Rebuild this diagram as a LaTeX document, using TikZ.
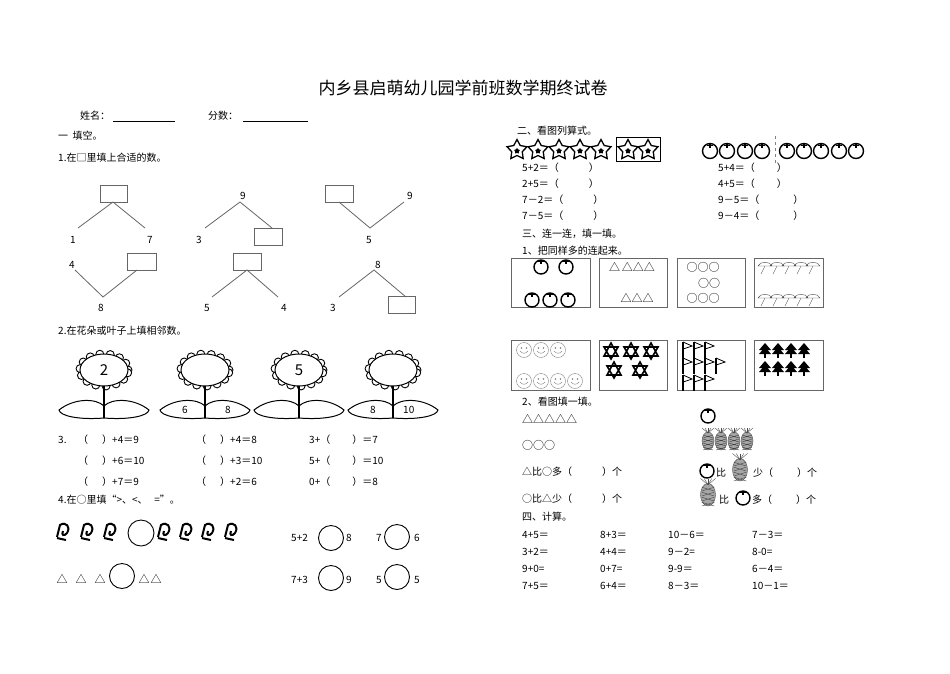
\documentclass[tikz,border=0pt]{standalone}
\usepackage{fontspec}
\setmainfont{Noto Sans CJK SC}
\usetikzlibrary{shapes.geometric}
\tikzset{tx/.style={anchor=west,inner sep=0pt,font=\fontsize{10}{11}\selectfont},
 ln/.style={draw=black!60,line width=0.8pt},
 bx/.style={draw=black!60,line width=0.8pt},
 ic/.style={line width=1.4pt}}
\newcommand\kh[1]{（\hspace{#1pt}）}
\newcommand\myapple[3][7]{\draw[ic] (#2,#3) circle[radius=#1pt]; \draw[ic] (#2,#3-#1) -- (#2,#3-#1+4); \draw[line width=0.8pt] (#2-3,#3-#1+1.5) -- (#2+3,#3-#1+1.5);}
\newcommand\mystar[2]{\node[star,star points=5,draw,line width=1.3pt,minimum size=21pt,inner sep=0pt,star point ratio=1.9] at (#1,#2) {}; \node[star,star points=5,fill,minimum size=6pt,inner sep=0pt] at (#1,#2+1) {};}
\newcommand\mypine[3][1]{\begin{scope}[shift={(#2,#3)},scale=#1]\draw[fill=black!35,draw=black!70] (0,3) ellipse[x radius=6pt,y radius=9pt];
 \foreach \v in {-3,1,5,9}{\draw[black!75] (-5,\v) -- (5,\v+3) (5,\v) -- (-5,\v+3);}
 \foreach \a in {-6,-3,0,3,6}{\draw[black!70] (0,-5) -- (\a,-10);}\end{scope}}
\newcommand\mycurl[2]{\draw[line width=2pt] (#1-6,#2+6) -- (#1-3,#2-6) .. controls (#1+3,#2-10) and (#1+8,#2-4) .. (#1+4,#2+2) .. controls (#1+1,#2+6) and (#1-2,#2+4) .. (#1,#2) (#1-6,#2+7) -- (#1+3,#2+9);}
\newcommand\myflower[2]{\begin{scope}[shift={(#1,370)}]
 \foreach \a in {0,25,...,359}{\draw[fill=white,line width=0.9pt] ({24*cos(\a)},{-16*sin(\a)}) circle[radius=4pt];}
 \draw[fill=white,line width=1pt] (0,0) ellipse[x radius=24pt,y radius=16pt];
 \draw[line width=1.5pt] (0,16) -- (0,48);
 \draw[line width=1pt] (0,48) .. controls (-25,50) and (-44,46) .. (-45,40) .. controls (-30,28) and (-8,28) .. (0,36);
 \draw[line width=1pt] (0,48) .. controls (25,50) and (44,46) .. (45,40) .. controls (30,28) and (8,28) .. (0,36);
 \node[font=\fontsize{15}{15}\selectfont] at (0,0) {#2};
\end{scope}}
\begin{document}
\begin{tikzpicture}[x=1pt,y=-1pt]
\useasboundingbox (0,0) rectangle (950,673);
\fill[white] (0,0) rectangle (950,673);
\node[font=\fontsize{17}{18}\selectfont] at (463,88) {内乡县启萌幼儿园学前班数学期终试卷};
\node[tx] at (80,116) {姓名：}; \draw (113,121) -- (175,121);
\node[tx] at (208,116) {分数：}; \draw (243,121) -- (308,121);
\node[tx] at (58,136) {一\ \ 填空。};
\node[tx] at (58,158) {1.在□里填上合适的数。};
% trees
\draw[bx] (100,185) rectangle (127,202); \draw[ln] (78,228) -- (113,202) -- (145,228);
\node[tx] at (70,240) {1}; \node[tx] at (147,240) {7};
\node[tx] at (240,196) {9}; \draw[ln] (205,228) -- (240,202) -- (272,228);
\node[tx] at (196,240) {3}; \draw[bx] (254,228) rectangle (282,245);
\draw[bx] (325,185) rectangle (353,202); \draw[ln] (339,202) -- (370,228) -- (404,202);
\node[tx] at (407,196) {9}; \node[tx] at (366,240) {5};
\node[tx] at (69,265) {4}; \draw[ln] (75,270) -- (103,297) -- (137,270);
\draw[bx] (127,253) rectangle (156,270); \node[tx] at (98,308) {8};
\draw[bx] (233,253) rectangle (261,270); \draw[ln] (212,297) -- (247,270) -- (278,297);
\node[tx] at (204,308) {5}; \node[tx] at (281,308) {4};
\node[tx] at (375,265) {8}; \draw[ln] (339,297) -- (374,270) -- (406,297);
\draw[bx] (388,296) rectangle (415,313); \node[tx] at (330,308) {3};
\node[tx] at (58,331) {2.在花朵或叶子上填相邻数。};
\myflower{104}{2}\myflower{205}{}\myflower{299}{5}\myflower{393}{}
\node[tx] at (182,410) {6}; \node[tx] at (225,410) {8};
\node[tx] at (370,410) {8}; \node[tx] at (403,410) {10};
% 3.
\node[tx] at (58,440) {3.};
\foreach \y/\a in {440/{+4＝9},461/{+6＝10},482/{+7＝9}}{\node[tx] at (78,\y) {\kh{14}\a};}
\foreach \y/\b in {440/{+4＝8},461/{+3＝10},482/{+2＝6}}{\node[tx] at (196,\y) {\kh{14}\b};}
\foreach \y/\p/\c in {440/3+/{＝7},461/5+/{＝10},482/0+/{＝8}}{\node[tx] at (309,\y) {\p\kh{22}\c};}
\node[tx] at (58,500) {4.在○里填“>、<、\ \ \ =”。};
\foreach \x in {63,87,110,164,186,208,231}{\mycurl{\x}{531}}
\draw[line width=0.9pt] (141,533) circle[radius=13pt];
\foreach \x in {62,81,100,144,156}{\node[font=\fontsize{11}{11}\selectfont] at (\x,579) {△};}
\draw[line width=0.9pt] (122,576) circle[radius=12.5pt];
\node[tx] at (291,538) {5+2}; \draw[line width=0.9pt] (331,538) circle[radius=12.5pt]; \node[tx] at (346,538) {8};
\node[tx] at (376,538) {7}; \draw[line width=0.9pt] (397,537) circle[radius=12.5pt]; \node[tx] at (414,538) {6};
\node[tx] at (291,580) {7+3}; \draw[line width=0.9pt] (331,578) circle[radius=12.5pt]; \node[tx] at (346,580) {9};
\node[tx] at (376,580) {5}; \draw[line width=0.9pt] (397,577) circle[radius=12.5pt]; \node[tx] at (414,580) {5};
% right
\node[tx] at (517,131) {二、看图列算式。};
\foreach \x in {517,538,559,580,601}{\mystar{\x}{150}}
\draw[line width=0.9pt] (616,137) rectangle (660,161);
\mystar{628}{150}\mystar{648}{150}
\foreach \x in {710,727,745,762,787,804,821,839,856}{\myapple[7.5]{\x}{151}}
\draw[dashed,gray,line width=1pt] (775,136) -- (775,163);
\foreach \y/\a/\b in {168/{5+2＝\kh{30}}/{5+4＝\kh{22}},184/{2+5＝\kh{30}}/{4+5＝\kh{22}},200/{7－2＝\kh{30}}/{9－5＝\kh{34}},216/{7－5＝\kh{30}}/{9－4＝\kh{34}}}
 {\node[tx] at (522,\y) {\a}; \node[tx] at (718,\y) {\b};}
\node[tx] at (522,234) {三、连一连，填一填。};
\node[tx] at (522,251) {1、把同样多的连起来。};
\foreach \x/\w in {511/79,599/68,677/68,754/69}{\draw[bx] (\x,258) rectangle ++(\w,49); \draw[bx] (\x,340) rectangle ++(\w,50);}
\myapple{541}{267}\myapple{566}{267}\myapple{532}{300}\myapple{550}{300}\myapple{568}{300}
\node[font=\fontsize{11}{11}\selectfont,inner sep=0pt] at (632,267) {△\,△△△};
\node[font=\fontsize{11}{11}\selectfont,inner sep=0pt] at (637,298) {△△△};
\node[font=\fontsize{11}{11}\selectfont,inner sep=0pt] at (703,267) {○○○};
\node[font=\fontsize{11}{11}\selectfont,inner sep=0pt] at (709,283) {○○};
\node[font=\fontsize{11}{11}\selectfont,inner sep=0pt] at (703,298) {○○○};
\foreach \x in {765,777,789,801,813}{\foreach \y in {266,298}{
 \draw[black!70] (\x-7,\y) .. controls (\x-5,\y-5) and (\x+5,\y-5) .. (\x+7,\y) -- cycle;
 \draw[black!70] (\x,\y) .. controls (\x-2,\y+4) .. (\x-4,\y+8);}}
\foreach \x/\y in {524/350,541/350,558/350,524/381,541/381,558/381,575/381}{
 \draw[black!50] (\x,\y) circle[radius=7.5pt]; \fill[black!50] (\x-2.5,\y-2) circle[radius=0.8pt] (\x+2.5,\y-2) circle[radius=0.8pt];
 \draw[black!50] (\x-4,\y+1) .. controls (\x-2,\y+4) and (\x+2,\y+4) .. (\x+4,\y+1);}
\foreach \x/\y in {611/351,631/351,651/351,614/370,640/370}{
 \draw[line width=1.6pt] (\x,\y-8) -- (\x+7,\y+5) -- (\x-7,\y+5) -- cycle (\x,\y+8) -- (\x+7,\y-4) -- (\x-7,\y-4) -- cycle;}
\foreach \x/\y in {683/348,694/348,705/348,683/364,694/364,705/364,716/364,683/381,694/381,705/381}{
 \draw[line width=1.2pt] (\x,\y-6) -- (\x,\y+10); \draw[line width=0.8pt] (\x,\y-6) -- (\x+9,\y-2) -- (\x,\y+1);}
\foreach \x in {765,778,791,804}{\foreach \y in {350,368}{
 \fill (\x,\y-7) -- (\x+6,\y) -- (\x-6,\y) -- cycle (\x,\y-3) -- (\x+6,\y+4) -- (\x-6,\y+4) -- cycle;
 \draw[line width=1.2pt] (\x,\y+4) -- (\x,\y+8);}}
\node[tx] at (522,402) {2、看图填一填。};
\node[tx,font=\fontsize{11}{11}\selectfont] at (522,419) {△△△△△};
\node[tx,font=\fontsize{11}{11}\selectfont] at (522,445) {○○○};
\node[tx] at (522,472) {△比○多\kh{30}个};
\node[tx] at (522,499) {○比△少\kh{30}个};
\myapple{708}{416}
\foreach \x in {708,721,734,747}{\mypine{\x}{438}}
\myapple{707}{471}\node[tx] at (716,473) {比}; \mypine[1.25]{740}{466}
\node[tx] at (753,473) {少\kh{24}个};
\mypine[1.25]{708}{491}\node[tx] at (719,500) {比}; \myapple{743}{498}
\node[tx] at (752,500) {多\kh{24}个};
\node[tx] at (522,517) {四、计算。};
\foreach \y/\a/\b/\c/\d in {535/4+5＝/8+3＝/10－6＝/7－3＝,552/3+2＝/4+4＝/9－2=/8-0=,569/9+0=/0+7=/9-9＝/6－4＝,586/7+5＝/6+4＝/8－3＝/10－1＝}
 {\node[tx] at (522,\y) {\a}; \node[tx] at (600,\y) {\b}; \node[tx] at (668,\y) {\c}; \node[tx] at (752,\y) {\d};}
\end{tikzpicture}
\end{document}
